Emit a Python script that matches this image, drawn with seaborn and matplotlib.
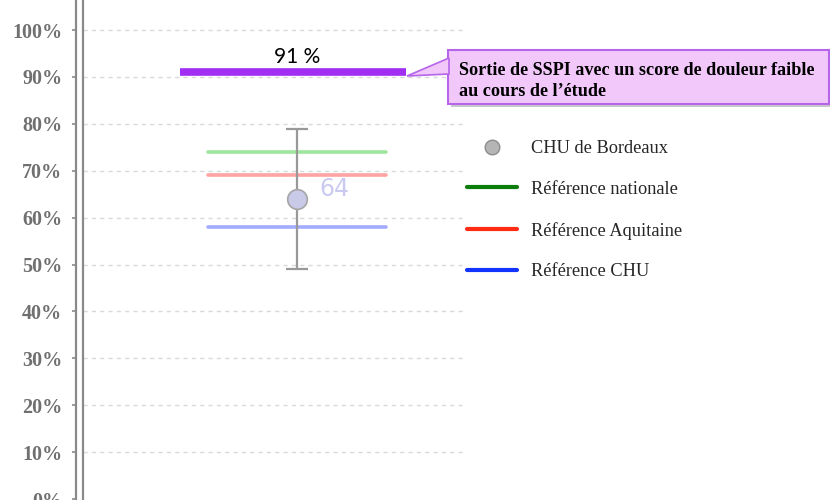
import matplotlib.pyplot as plt
import pandas as pd
import seaborn as sns
from matplotlib.lines import Line2D
from matplotlib.patches import Polygon, Rectangle

# Data
site_label = "CHU de Bordeaux"
site_value = [64]
site_low = [49]
site_high = [79]
ref_labels = ["Référence nationale", "Référence Aquitaine", "Référence CHU"]
ref_values = [74, 69, 58]
target_value = 91
target_text = "Sortie de SSPI avec un score de douleur faible\nau cours de l\u2019étude"
y_ticks = [0, 10, 20, 30, 40, 50, 60, 70, 80, 90, 100]

sns.set_theme(style="white")
plt.rcParams['font.family'] = ['Liberation Serif', 'DejaVu Serif']

fig = plt.figure(figsize=(8.3, 5), dpi=100)
W, H = 830, 500
ax = fig.add_axes([83 / W, 0, (466 - 83) / W, 1])

# styles
line_colors = ["#9ee69e", "#ffa3a3", "#a3abff"]
legend_colors = ["#0b7d0b", "#ff2b12", "#1234ff"]
half = 0.89

# reference lines
df_ref = pd.DataFrame({
    "x": [-half, half] * len(ref_labels),
    "value": [v for v in ref_values for _ in range(2)],
    "ref": [r for r in ref_labels for _ in range(2)],
})
sns.lineplot(data=df_ref, x="x", y="value", hue="ref", palette=line_colors,
             linewidth=2.6, legend=False, ax=ax, sort=False)

# target line (purple)
df_target = pd.DataFrame({"x": [-1.17, 1.09], "value": [target_value] * 2})
sns.lineplot(data=df_target, x="x", y="value", color="#a12ef2", linewidth=5.5,
             ax=ax, legend=False, solid_capstyle="butt")
ax.text(0, target_value + 3.2, f"{target_value} %", ha="center", va="center",
        fontsize=15, family=["Lato", "DejaVu Sans"], color="black")

# site point with interval
ax.errorbar([0], site_value, yerr=[[site_value[0] - site_low[0]], [site_high[0] - site_value[0]]],
            fmt="none", ecolor="#999999", elinewidth=1.6, capsize=8, capthick=1.6, zorder=3)
sns.scatterplot(x=[0], y=site_value, s=200, color="#c9c9e8", edgecolor="#a5a5a5",
                linewidth=1.2, ax=ax, zorder=4)
ax.text(0.22, site_value[0] + 2.0, str(site_value[0]), ha="left", va="center",
        fontsize=17, family=["DejaVu Sans"], color="#cacaf0")

# axes
ax.set_xlim(-2.14, 1.69)
ax.set_ylim(-0.2, 106.4)
ax.set_xticks([])
ax.set_xlabel("")
ax.set_ylabel("")
for s in ["top", "right", "bottom"]:
    ax.spines[s].set_visible(False)
ax.spines["left"].set_position(("outward", 5))
ax.spines["left"].set_color("#8a8a8a")
ax.spines["left"].set_linewidth(1.6)
ax.tick_params(axis="y", left=True, length=3, width=1.2, color="#8a8a8a", pad=7)
ax.set_yticks(y_ticks)
ax.set_yticklabels([f"{t}%" for t in y_ticks])
for lab in ax.get_yticklabels():
    lab.set_fontsize(14.5)
    lab.set_fontweight("bold")
    lab.set_color("#707070")
ax.plot([0, 0], [0, 1], transform=ax.transAxes, color="#8a8a8a", lw=1.6, clip_on=False)
for t in y_ticks[1:]:
    ax.axhline(t, color="#d9d9d9", lw=1, ls=(0, (3, 3)), zorder=0)

# legend
handles = [Line2D([], [], marker="o", ls="none", markersize=10.5, markerfacecolor="#b5b5b5",
                  markeredgecolor="#8c8c8c")]
handles += [Line2D([], [], color=c, lw=3) for c in legend_colors]
fig.legend(handles, [site_label] + ref_labels, loc="upper left",
           bbox_to_anchor=(467 / W, 1 - 140 / H), frameon=False, fontsize=13.2,
           handlelength=2.73, handletextpad=0.77, labelspacing=1.3,
           borderpad=0, borderaxespad=0)

# callout
bx0, bx1, by0, by1 = 448, 829, 50, 104
fig.patches.append(Rectangle((bx0 / W + 0.004, 1 - (by1 + 3) / H), (bx1 - bx0) / W, (by1 - by0) / H,
                             transform=fig.transFigure, facecolor="#c8c8c8", edgecolor="none",
                             zorder=1))
fig.patches.append(Rectangle((bx0 / W, 1 - by1 / H), (bx1 - bx0) / W, (by1 - by0) / H,
                             transform=fig.transFigure, facecolor="#f2c8fa", edgecolor="#b565ea",
                             lw=1.5, zorder=2))
fig.patches.append(Polygon([(407 / W, 1 - 76 / H), (449 / W, 1 - 58 / H), (449 / W, 1 - 74 / H)],
                           closed=True, transform=fig.transFigure, facecolor="#f2c8fa",
                           edgecolor="#b565ea", lw=1.2, zorder=2))
fig.text(459 / W, 1 - 81 / H, target_text, ha="left", va="center", fontsize=13.1,
         fontweight="bold", color="black", linespacing=1.3, zorder=3)

fig.savefig("out.png", dpi=100)
